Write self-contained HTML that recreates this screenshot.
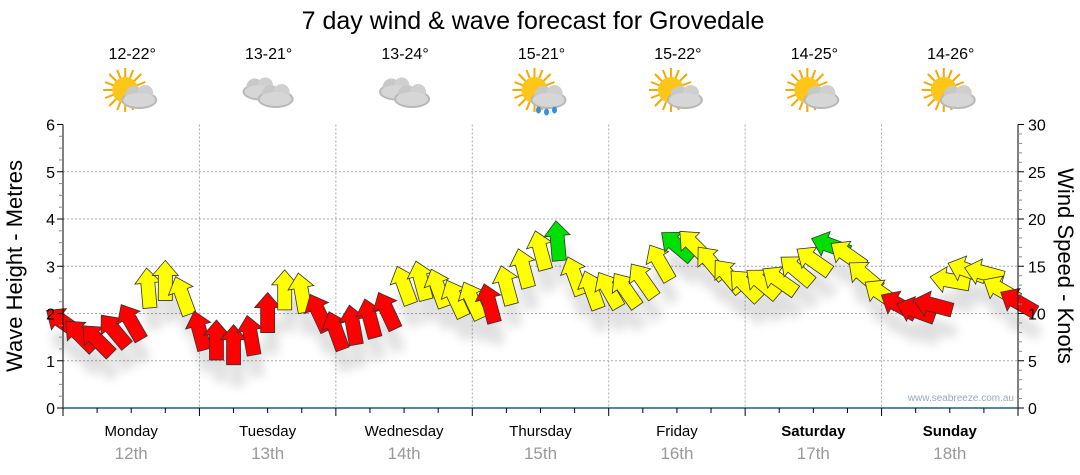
<!DOCTYPE html>
<html><head><meta charset="utf-8"><style>
html,body{margin:0;padding:0;background:#fff;}
svg{display:block;font-family:"Liberation Sans",sans-serif;}
</style></head><body>
<svg id="chart" width="1080" height="475" viewBox="0 0 1080 475">
<defs>
<filter id="sh" x="-50%" y="-50%" width="200%" height="200%"><feGaussianBlur stdDeviation="5"/></filter>
<g id="sun"><g stroke="#f5a800" stroke-width="2">
<line x1="0" y1="-22" x2="0" y2="22"/><line x1="-22" y1="0" x2="22" y2="0"/><line x1="-16" y1="-16" x2="16" y2="16"/><line x1="-16" y1="16" x2="16" y2="-16"/>
<line x1="-8" y1="-20" x2="8" y2="20"/><line x1="-20" y1="-8" x2="20" y2="8"/><line x1="-20" y1="8" x2="20" y2="-8"/><line x1="-8" y1="20" x2="8" y2="-20"/></g>
<circle r="13" fill="#ffc61a"/></g>
<g id="cloud"><ellipse cx="0" cy="4" rx="18" ry="9" fill="#b8b8b8"/><circle cx="-5" cy="-1" r="9" fill="#c8c8c8"/><circle cx="6" cy="-3" r="8" fill="#cfcfcf"/><ellipse cx="0" cy="4" rx="16" ry="7" fill="#d6d6d6"/></g>
</defs>
<text x="533" y="29" text-anchor="middle" font-size="25" fill="#000">7 day wind &amp; wave forecast for Grovedale</text>
<g id="grid"></g>
<g id="wx"></g>
<g id="shadows" filter="url(#sh)" opacity="0.12"></g>
<g id="arrows"></g>
<g id="axes"></g>
<text x="0" y="0" transform="translate(22,266) rotate(-90)" text-anchor="middle" font-size="22" fill="#000">Wave Height - Metres</text>
<text x="0" y="0" transform="translate(1058,266) rotate(90)" text-anchor="middle" font-size="22" fill="#000">Wind Speed - Knots</text>
<text x="1014" y="401" text-anchor="end" font-size="10" fill="#9aa8b8">www.seabreeze.com.au</text>
</svg>
<script>
const days = ["Monday","Tuesday","Wednesday","Thursday","Friday","Saturday","Sunday"];
const dates = ["12th","13th","14th","15th","16th","17th","18th"];
const temps = ["12-22°","13-21°","13-24°","15-21°","15-22°","14-25°","14-26°"];
const icons = ["sun","cloud","cloud","rain","sun","sun","sun"];
const waveTicks = [0,1,2,3,4,5,6];
const windTicks = [0,5,10,15,20,25,30];
// wind speed (knots), every 3 hours from Monday 00:00
const windSpeed = [9.1,7.7,7.2,8.2,9.1,12.7,13.5,11.9, 8.2,7.2,6.7,7.7,10.1,12.5,12.2,10.1, 8.2,8.8,9.5,10.3,13,13.5,12.7,11.6, 11.4,11.1,13,14.8,16.7,17.7,14,12.5, 12.5,12.5,13.5,15.4,17.2,17.2,15.4,14, 13,13.2,13.5,14.6,15.6,17.2,16.2,14, 12.1,10.9,10.3,10.9,13.5,14.6,14.3,12.5,11.2];
// arrow heading in degrees (0 = pointing up)
const windDir = [-55,-45,-45,-40,-30,-5,0,-20, -15,0,0,-10,0,0,-10,-25, -20,-10,-15,-25,-20,-15,-20,-25, -25,-15,-15,-15,-15,-5,-20,-20, -30,-35,-35,-30,-50,-45,-40,-40, -45,-50,-55,-50,-55,-70,-55,-50, -55,-60,-70,-75,-80,-70,-75,-60,-60];
const windRating = ["R","R","R","R","R","Y","Y","Y", "R","R","R","R","R","Y","Y","R", "R","R","R","R","Y","Y","Y","Y", "Y","R","Y","Y","Y","G","Y","Y", "Y","Y","Y","Y","G","Y","Y","Y", "Y","Y","Y","Y","Y","G","Y","Y", "Y","R","R","R","Y","Y","Y","Y","R"];

const NS="http://www.w3.org/2000/svg";
const X0=63, X1=1018, Y0=408, Y1=124.5, DAYW=(X1-X0)/7;
const xH = h => X0 + h/24*DAYW;
const yWave = m => Y0 - m/6*(Y0-Y1);
const yWind = k => Y0 - k/30*(Y0-Y1);
function mk(tag,attrs,parent){const e=document.createElementNS(NS,tag);for(const k in attrs)e.setAttribute(k,attrs[k]);parent.appendChild(e);return e;}
const grid=document.getElementById('grid'), axes=document.getElementById('axes'), wx=document.getElementById('wx');

waveTicks.forEach(v=>{ if(v>0&&v<6){const l=mk('line',{x1:X0,x2:X1,y1:yWave(v),y2:yWave(v),stroke:'#aaa','stroke-dasharray':'2,2'},grid);

}});
for(let d=1;d<7;d++){const l=mk('line',{x1:xH(d*24),x2:xH(d*24),y1:Y1,y2:Y0,stroke:'#aaa','stroke-dasharray':'2,2'},grid);

}

mk('line',{x1:X0,x2:X0,y1:Y1,y2:Y0+8,stroke:'#000'},axes);
mk('line',{x1:X1,x2:X1,y1:Y1,y2:Y0+8,stroke:'#000'},axes);
mk('line',{x1:X0,x2:X1,y1:Y0,y2:Y0,stroke:'#1e5a8a','stroke-width':1.5},axes);
for(let i=0;i<=24;i++){const y=yWave(i/4);mk('line',{x1:X0-(i%4?4:6),x2:X0,y1:y,y2:y,stroke:i%4?'#888':'#000'},axes);}
waveTicks.forEach(v=>{const t=mk('text',{x:X0-8,y:yWave(v)+6,'text-anchor':'end','font-size':16},axes);t.textContent=v;

});
for(let i=0;i<=30;i++){const y=yWind(i);mk('line',{x1:X1,x2:X1+(i%5?4:6),y1:y,y2:y,stroke:i%5?'#888':'#000'},axes);}
windTicks.forEach(v=>{const t=mk('text',{x:X1+10,y:yWind(v)+6,'font-size':16},axes);t.textContent=v;

});
for(let h=0;h<=168;h+=6){mk('line',{x1:xH(h),x2:xH(h),y1:Y0,y2:Y0+(h%24?5:8),stroke:'#000'},axes);}

days.forEach((d,i)=>{const cx=xH(i*24+12);
const t=mk('text',{x:cx,y:436,'text-anchor':'middle','font-size':15,'font-weight':i>=5?'bold':'normal'},axes);t.textContent=d;


const t2=mk('text',{x:cx,y:459,'text-anchor':'middle','font-size':17,fill:'#999'},axes);t2.textContent=dates[i];


const t3=mk('text',{x:cx+1,y:59,'text-anchor':'middle','font-size':16},wx);t3.textContent=temps[i];


const g=mk('g',{transform:`translate(${cx},92)`},wx);


if(icons[i]==='cloud'){mk('use',{href:'#cloud',transform:'translate(-8,-4) scale(0.95)'},g);mk('use',{href:'#cloud',transform:'translate(8,3)'},g);}
else{mk('use',{href:'#sun',transform:'translate(-6,-2)'},g);mk('use',{href:'#cloud',transform:'translate(8,4)'},g);
if(icons[i]==='rain'){[[-2,18],[6,20],[14,18]].forEach(p=>mk('ellipse',{cx:p[0],cy:p[1],rx:2.5,ry:3.5,fill:'#3a8fd8'},g));}}
});

const colors={R:'#ff0000',Y:'#ffff00',G:'#00e000'};
const arrowPts="0,-20 13,-5 7,-5 7,20 -7,20 -7,-5 -13,-5";
const arrows=document.getElementById('arrows'), shadows=document.getElementById('shadows');
windSpeed.forEach((k,i)=>{const x=xH(i*3), y=yWind(k);
mk('polygon',{points:arrowPts,fill:'#000',transform:`translate(${x+4},${y+22}) rotate(${windDir[i]})`},shadows);
const p=mk('polygon',{points:arrowPts,fill:colors[windRating[i]],stroke:'#333','stroke-width':0.8,transform:`translate(${x},${y}) rotate(${windDir[i]})`},arrows);


});
</script>
</body></html>
